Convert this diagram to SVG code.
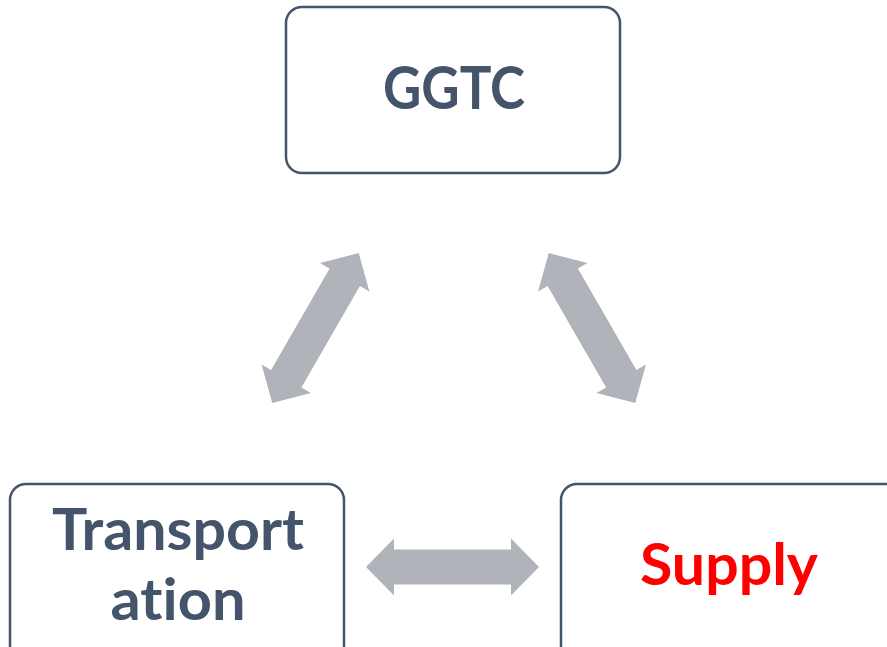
<svg xmlns="http://www.w3.org/2000/svg" width="887" height="647" viewBox="0 0 887 647">
<defs>
<style>
.box{fill:#fff;stroke:#44546A;stroke-width:2.5}
.lbl{font-family:Lato,"Open Sans","Liberation Sans",sans-serif;font-weight:bold;fill:#44546A;text-anchor:middle;font-variant-ligatures:none}
.arr{fill:#B0B3BA}
</style>
<polygon id="dbl" points="-86.5,0 -58.5,-28.5 -58.5,-17.5 58.5,-17.5 58.5,-28.5 86.5,0 58.5,28.5 58.5,17.5 -58.5,17.5 -58.5,28.5"/>
</defs>
<rect width="887" height="647" fill="#fff"/>
<g id="connectors">
<use href="#dbl" class="arr" transform="translate(315.5,328) rotate(-60)"/>
<use href="#dbl" class="arr" transform="translate(592,328) rotate(60)"/>
<use href="#dbl" class="arr" transform="translate(452.5,567)"/>
</g>
<g id="ggtc">
<rect class="box" x="286" y="7" width="334" height="166" rx="16"/>
<text class="lbl" x="454" y="109" font-size="59" textLength="142" lengthAdjust="spacingAndGlyphs">GGTC</text>
</g>
<g id="transportation">
<rect class="box" x="10" y="484" width="334" height="200" rx="16"/>
<text class="lbl" x="178" y="550" font-size="58" textLength="252" lengthAdjust="spacingAndGlyphs">Transport</text>
<text class="lbl" x="178" y="620" font-size="58" textLength="135" lengthAdjust="spacingAndGlyphs">ation</text>
</g>
<g id="supply">
<rect class="box" x="561" y="484" width="400" height="200" rx="16"/>
<text class="lbl" x="729" y="585" font-size="58" textLength="178" lengthAdjust="spacingAndGlyphs" style="fill:#FF0000">Supply</text>
</g>
</svg>
